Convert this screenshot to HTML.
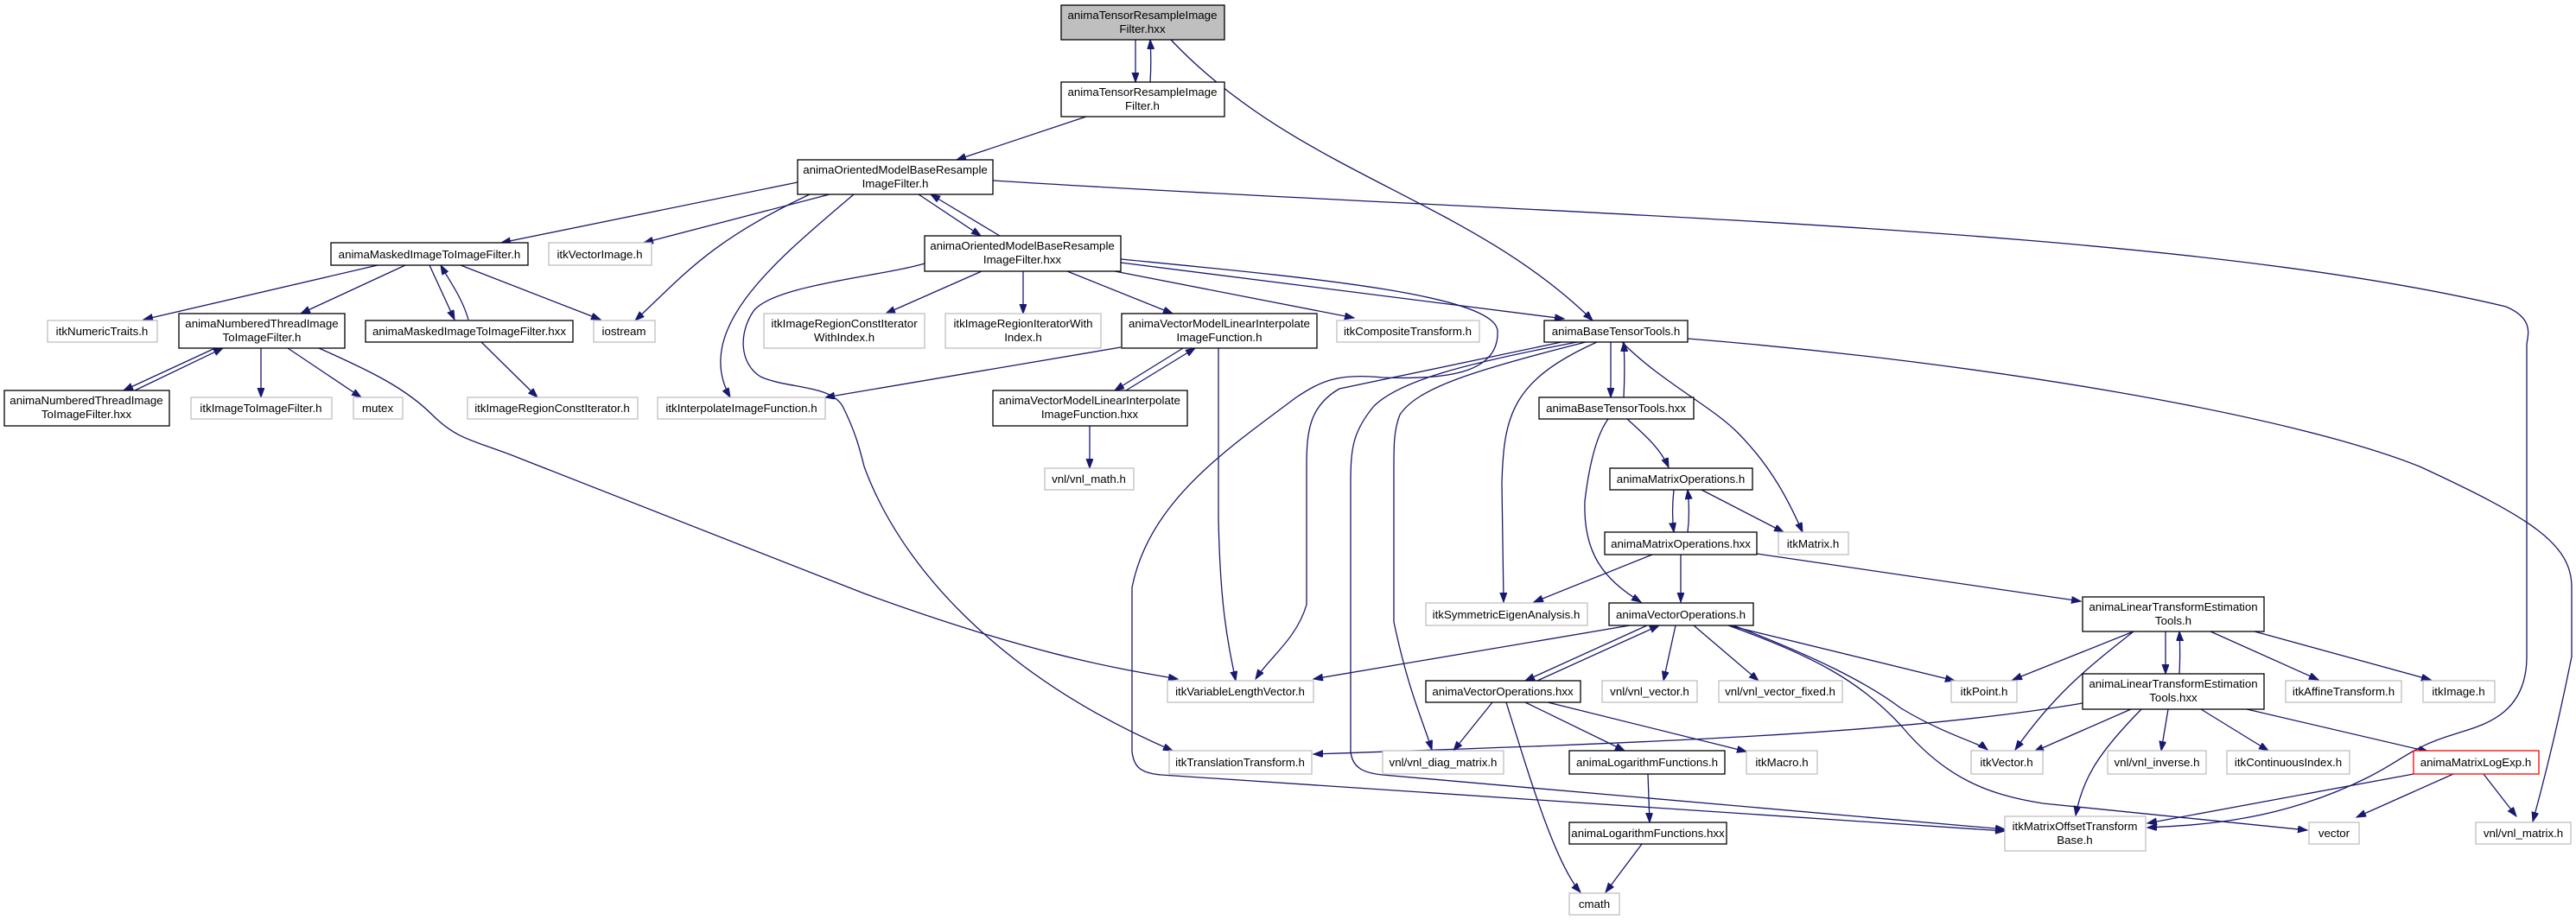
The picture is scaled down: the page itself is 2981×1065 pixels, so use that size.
<!DOCTYPE html>
<html><head><meta charset="utf-8"><style>
html,body{margin:0;padding:0;background:#fff;}
svg{display:block;}
text{font-family:"Liberation Sans",Arial,sans-serif;font-size:13.3px;fill:#000;text-anchor:middle;}
.n{fill:#fff;stroke:#000;stroke-width:1.3;}
.g{fill:#fff;stroke:#bfbfbf;stroke-width:1.3;}
.r{fill:#fff;stroke:#ff0000;stroke-width:1.3;}
.e{fill:none;stroke:#191970;stroke-width:1.3;marker-end:url(#a);}
</style></head><body>
<svg width="2981" height="1065" viewBox="0 0 2981 1065" xmlns="http://www.w3.org/2000/svg">
<defs><marker id="a" markerUnits="userSpaceOnUse" markerWidth="12" markerHeight="10" refX="11" refY="4" orient="auto"><path d="M0,0 L11,4 L0,8 z" fill="#191970" stroke="#191970"/></marker></defs>

<!-- edges -->
<path class="e" d="M1314,46 L1314,95"/>
<path class="e" d="M1331,95 C1332,80 1332,62 1331,46"/>
<path class="e" d="M1355,46 C1500,200 1700,230 1843,371"/>
<path class="e" d="M1257,135 L1107,185"/>
<path class="e" d="M923,211 L580,281"/>
<path class="e" d="M960,225 L745,281"/>
<path class="e" d="M1063,225 L1135,273"/>
<path class="e" d="M1157,273 L1077,225"/>
<path class="e" d="M937,225 C820,280 790,320 735,371"/>
<path class="e" d="M988,225 C900,300 800,380 845,460"/>
<path class="e" d="M1149,209 C1800,250 2500,260 2900,355 C2935,370 2924,390 2924,400 L2924,760 C2924,830 2870,840 2840,850 C2790,865 2780,880 2740,900 C2640,950 2550,955 2485,958"/>
<path class="e" d="M1070,305 C1020,320 895,330 872,360 C855,385 855,420 880,436 C910,450 960,445 975,470 C990,500 995,520 1000,540 C1040,650 1150,780 1357,869"/>
<path class="e" d="M1136,314 L1025,363"/>
<path class="e" d="M1184,314 L1184,363"/>
<path class="e" d="M1235,314 L1357,363"/>
<path class="e" d="M1290,314 L1567,368"/>
<path class="e" d="M1297,304 L1810,369"/>
<path class="e" d="M1297,300 C1500,320 1730,340 1733,383 C1735,430 1680,440 1600,437 C1550,432 1530,440 1500,460 C1420,520 1330,580 1310,680 L1310,870 C1312,888 1320,895 1344,897 L2320,962"/>
<path class="e" d="M1807,396 L1550,450 C1515,470 1512,500 1512,540 L1512,700 C1500,740 1470,760 1453,786"/>
<path class="e" d="M1410,403 L1410,600 C1412,700 1420,740 1430,788"/>
<path class="e" d="M369,403 C430,430 470,450 500,480 C530,510 550,510 600,530 L1000,687 C1200,760 1300,775 1363,786"/>
<path class="e" d="M1297,402 L955,460"/>
<path class="e" d="M1825,396 C1700,420 1620,440 1590,470 C1565,500 1563,520 1563,560 L1563,870 C1565,890 1580,895 1600,897 L2320,960"/>
<path class="e" d="M1835,396 C1700,430 1640,450 1620,480 C1612,500 1613,520 1613,560 L1613,720 C1630,800 1645,830 1657,868"/>
<path class="e" d="M1848,396 C1750,440 1740,480 1738,560 L1740,697"/>
<path class="e" d="M1864,396 L1864,460"/>
<path class="e" d="M1879,460 C1880,440 1880,415 1879,396"/>
<path class="e" d="M1877,396 C1920,440 1980,470 2010,500 C2050,540 2070,580 2086,616"/>
<path class="e" d="M1953,392 C2300,420 2650,480 2800,540 C2930,600 2976,630 2976,680 L2976,760 C2960,840 2945,900 2931,951"/>
<path class="e" d="M1883,485 C1905,505 1922,520 1931,541"/>
<path class="e" d="M1861,485 C1850,500 1840,530 1834,580 C1832,640 1855,670 1899,697"/>
<path class="e" d="M1937,567 C1935,585 1935,600 1937,616"/>
<path class="e" d="M1953,616 C1955,600 1955,585 1953,567"/>
<path class="e" d="M1969,567 L2064,616"/>
<path class="e" d="M1912,642 L1775,697"/>
<path class="e" d="M1945,642 L1945,697"/>
<path class="e" d="M2033,641 L2408,696"/>
<path class="e" d="M1886,724 L1520,786"/>
<path class="e" d="M1906,724 L1765,788"/>
<path class="e" d="M1779,788 L1920,724"/>
<path class="e" d="M1939,724 L1925,788"/>
<path class="e" d="M1960,724 L2035,788"/>
<path class="e" d="M2000,724 L2262,788"/>
<path class="e" d="M2006,724 C2100,760 2160,790 2200,820 C2250,850 2290,860 2300,868"/>
<path class="e" d="M2000,724 C2100,760 2153,789 2200,840 C2250,900 2300,920 2364,930 L2670,961"/>
<path class="e" d="M1727,813 L1682,869"/>
<path class="e" d="M1765,813 L1880,869"/>
<path class="e" d="M1791,813 L2021,870"/>
<path class="e" d="M1743,813 C1770,900 1800,1000 1829,1033"/>
<path class="e" d="M1907,896 L1909,952"/>
<path class="e" d="M1900,977 L1858,1033"/>
<path class="e" d="M2506,731 L2506,780"/>
<path class="e" d="M2522,780 C2523,760 2523,750 2522,731"/>
<path class="e" d="M2469,731 L2329,787"/>
<path class="e" d="M2469,731 C2420,770 2380,800 2332,868"/>
<path class="e" d="M2558,731 L2683,787"/>
<path class="e" d="M2609,731 L2813,787"/>
<path class="e" d="M2410,814 C2200,850 1900,860 1520,873"/>
<path class="e" d="M2466,821 L2354,870"/>
<path class="e" d="M2478,821 C2430,870 2410,900 2402,944"/>
<path class="e" d="M2509,821 L2501,869"/>
<path class="e" d="M2547,821 L2625,869"/>
<path class="e" d="M2600,821 L2810,870"/>
<path class="e" d="M2793,896 L2485,953"/>
<path class="e" d="M2839,896 L2727,946"/>
<path class="e" d="M2874,896 L2912,945"/>
<path class="e" d="M437,307 L166,370"/>
<path class="e" d="M469,307 L348,363"/>
<path class="e" d="M497,307 L526,370"/>
<path class="e" d="M542,370 C535,345 520,325 510,307"/>
<path class="e" d="M533,307 L695,370"/>
<path class="e" d="M249,403 L143,452"/>
<path class="e" d="M156,452 L258,403"/>
<path class="e" d="M302,403 L302,460"/>
<path class="e" d="M333,403 L418,460"/>
<path class="e" d="M557,396 L622,460"/>
<path class="e" d="M1369,403 L1290,452"/>
<path class="e" d="M1303,452 L1383,403"/>
<path class="e" d="M1261,493 L1261,542"/>

<!-- nodes -->
<rect x="1228" y="6" width="189" height="40" fill="#bfbfbf" stroke="#000" stroke-width="1.3"/>
<text x="1322" y="22">animaTensorResampleImage</text><text x="1322" y="38">Filter.hxx</text>
<rect class="n" x="1228" y="95" width="189" height="40"/><text x="1322" y="111">animaTensorResampleImage</text><text x="1322" y="127">Filter.h</text>
<rect class="n" x="923" y="185" width="226" height="40"/><text x="1036" y="201">animaOrientedModelBaseResample</text><text x="1036" y="217">ImageFilter.h</text>
<rect class="n" x="383" y="281" width="228" height="26"/><text x="497" y="299">animaMaskedImageToImageFilter.h</text>
<rect class="g" x="635" y="281" width="119" height="26"/><text x="694" y="299">itkVectorImage.h</text>
<rect class="n" x="1070" y="273" width="227" height="41"/><text x="1183" y="289">animaOrientedModelBaseResample</text><text x="1183" y="305">ImageFilter.hxx</text>
<rect class="g" x="55" y="371" width="127" height="25"/><text x="118" y="388">itkNumericTraits.h</text>
<rect class="n" x="207" y="363" width="192" height="40"/><text x="303" y="379">animaNumberedThreadImage</text><text x="303" y="395">ToImageFilter.h</text>
<rect class="n" x="423" y="371" width="240" height="25"/><text x="543" y="388">animaMaskedImageToImageFilter.hxx</text>
<rect class="g" x="687" y="371" width="71" height="25"/><text x="722" y="388">iostream</text>
<rect class="g" x="884" y="363" width="186" height="40"/><text x="977" y="379">itkImageRegionConstIterator</text><text x="977" y="395">WithIndex.h</text>
<rect class="g" x="1094" y="363" width="180" height="40"/><text x="1184" y="379">itkImageRegionIteratorWith</text><text x="1184" y="395">Index.h</text>
<rect class="n" x="1298" y="363" width="226" height="40"/><text x="1411" y="379">animaVectorModelLinearInterpolate</text><text x="1411" y="395">ImageFunction.h</text>
<rect class="g" x="1547" y="371" width="165" height="25"/><text x="1629" y="388">itkCompositeTransform.h</text>
<rect class="n" x="1787" y="371" width="166" height="25"/><text x="1870" y="388">animaBaseTensorTools.h</text>
<rect class="n" x="5" y="452" width="191" height="41"/><text x="100" y="468">animaNumberedThreadImage</text><text x="100" y="484">ToImageFilter.hxx</text>
<rect class="g" x="221" y="460" width="163" height="25"/><text x="302" y="477">itkImageToImageFilter.h</text>
<rect class="g" x="409" y="460" width="57" height="25"/><text x="437" y="477">mutex</text>
<rect class="g" x="541" y="460" width="197" height="25"/><text x="639" y="477">itkImageRegionConstIterator.h</text>
<rect class="g" x="761" y="460" width="194" height="25"/><text x="858" y="477">itkInterpolateImageFunction.h</text>
<rect class="n" x="1149" y="452" width="225" height="41"/><text x="1261" y="468">animaVectorModelLinearInterpolate</text><text x="1261" y="484">ImageFunction.hxx</text>
<rect class="n" x="1781" y="460" width="179" height="25"/><text x="1870" y="477">animaBaseTensorTools.hxx</text>
<rect class="g" x="1209" y="542" width="103" height="25"/><text x="1260" y="559">vnl/vnl_math.h</text>
<rect class="n" x="1863" y="542" width="165" height="25"/><text x="1945" y="559">animaMatrixOperations.h</text>
<rect class="g" x="2058" y="616" width="81" height="26"/><text x="2098" y="634">itkMatrix.h</text>
<rect class="n" x="1857" y="616" width="176" height="26"/><text x="1945" y="634">animaMatrixOperations.hxx</text>
<rect class="g" x="1650" y="698" width="187" height="26"/><text x="1743" y="716">itkSymmetricEigenAnalysis.h</text>
<rect class="n" x="1862" y="698" width="167" height="26"/><text x="1945" y="716">animaVectorOperations.h</text>
<rect class="n" x="2410" y="691" width="210" height="40"/><text x="2515" y="707">animaLinearTransformEstimation</text><text x="2515" y="723">Tools.h</text>
<rect class="g" x="1351" y="788" width="169" height="25"/><text x="1435" y="805">itkVariableLengthVector.h</text>
<rect class="n" x="1650" y="788" width="179" height="25"/><text x="1739" y="805">animaVectorOperations.hxx</text>
<rect class="g" x="1854" y="788" width="110" height="25"/><text x="1909" y="805">vnl/vnl_vector.h</text>
<rect class="g" x="1989" y="788" width="143" height="25"/><text x="2060" y="805">vnl/vnl_vector_fixed.h</text>
<rect class="g" x="2258" y="788" width="76" height="25"/><text x="2296" y="805">itkPoint.h</text>
<rect class="n" x="2410" y="780" width="210" height="41"/><text x="2515" y="796">animaLinearTransformEstimation</text><text x="2515" y="812">Tools.hxx</text>
<rect class="g" x="2645" y="788" width="134" height="25"/><text x="2712" y="805">itkAffineTransform.h</text>
<rect class="g" x="2804" y="788" width="83" height="25"/><text x="2845" y="805">itkImage.h</text>
<rect class="g" x="1353" y="869" width="165" height="27"/><text x="1435" y="887">itkTranslationTransform.h</text>
<rect class="g" x="1600" y="869" width="140" height="27"/><text x="1670" y="887">vnl/vnl_diag_matrix.h</text>
<rect class="n" x="1816" y="869" width="180" height="27"/><text x="1906" y="887">animaLogarithmFunctions.h</text>
<rect class="g" x="2021" y="869" width="82" height="27"/><text x="2062" y="887">itkMacro.h</text>
<rect class="g" x="2281" y="869" width="83" height="27"/><text x="2322" y="887">itkVector.h</text>
<rect class="g" x="2439" y="869" width="114" height="27"/><text x="2496" y="887">vnl/vnl_inverse.h</text>
<rect class="g" x="2577" y="869" width="142" height="27"/><text x="2648" y="887">itkContinuousIndex.h</text>
<rect class="r" x="2793" y="869" width="145" height="27"/><text x="2865" y="887">animaMatrixLogExp.h</text>
<rect class="g" x="2320" y="945" width="163" height="40"/><text x="2401" y="961">itkMatrixOffsetTransform</text><text x="2401" y="977">Base.h</text>
<rect class="n" x="1816" y="952" width="182" height="25"/><text x="1907" y="969">animaLogarithmFunctions.hxx</text>
<rect class="g" x="2672" y="952" width="58" height="25"/><text x="2701" y="969">vector</text>
<rect class="g" x="2865" y="952" width="110" height="25"/><text x="2920" y="969">vnl/vnl_matrix.h</text>
<rect class="g" x="1816" y="1034" width="58" height="25"/><text x="1845" y="1051">cmath</text>
</svg>
</body></html>
